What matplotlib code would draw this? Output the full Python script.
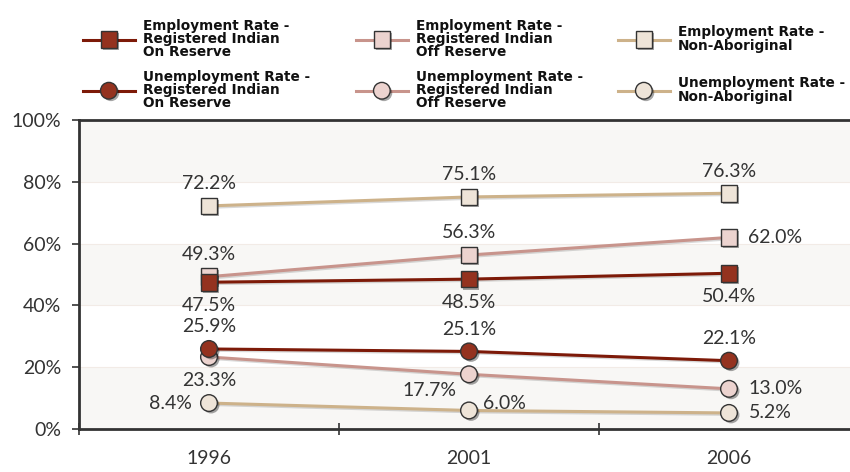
import matplotlib
matplotlib.use("Agg")
import matplotlib.pyplot as plt
import matplotlib.patheffects as pe
from matplotlib.lines import Line2D

plt.rcParams['font.family'] = ['Lato', 'DejaVu Sans']

years = ["1996", "2001", "2006"]
emp_on = [47.5, 48.5, 50.4]
emp_off = [49.3, 56.3, 62.0]
emp_non = [72.2, 75.1, 76.3]
unemp_on = [25.9, 25.1, 22.1]
unemp_off = [23.3, 17.7, 13.0]
unemp_non = [8.4, 6.0, 5.2]

labels = [
    "Employment Rate -\nRegistered Indian\nOn Reserve",
    "Unemployment Rate -\nRegistered Indian\nOn Reserve",
    "Employment Rate -\nRegistered Indian\nOff Reserve",
    "Unemployment Rate -\nRegistered Indian\nOff Reserve",
    "Employment Rate -\nNon-Aboriginal",
    "Unemployment Rate -\nNon-Aboriginal",
]
yticks = [0, 20, 40, 60, 80, 100]
ytick_labels = ["0%", "20%", "40%", "60%", "80%", "100%"]

C_ON_LINE, C_ON_FILL = "#7d1a08", "#94321f"
C_OFF_LINE, C_OFF_FILL = "#c8948c", "#ecd3cf"
C_NON_LINE, C_NON_FILL = "#cdb28a", "#eee4d8"
EDGE = "#333333"
TXT = "#333333"

fig = plt.figure(figsize=(8.5, 4.72), dpi=100)
ax = fig.add_axes([79/850, 43/472, 780/850, 309/472])
ax.set_xlim(-0.5, 2.5)
ax.set_ylim(0, 100)

# background bands
for lo in (0, 40, 80):
    ax.axhspan(lo, lo + 20, color="#f8f7f5", zorder=0, lw=0)
for yv in (20, 40, 60, 80):
    ax.axhline(yv, color="#f2ebe6", lw=0.8, zorder=0.5)

x = list(range(len(years)))
line_fx = [pe.SimpleLineShadow(offset=(1.0, -1.0), alpha=0.15, shadow_color="black"), pe.Normal()]
mark_fx = [pe.SimplePatchShadow(offset=(1.5, -1.5), alpha=0.35, shadow_rgbFace="black"), pe.Normal()]

series = [
    (emp_off, C_OFF_LINE, C_OFF_FILL, "s"),
    (unemp_off, C_OFF_LINE, C_OFF_FILL, "o"),
    (emp_non, C_NON_LINE, C_NON_FILL, "s"),
    (unemp_non, C_NON_LINE, C_NON_FILL, "o"),
    (emp_on, C_ON_LINE, C_ON_FILL, "s"),
    (unemp_on, C_ON_LINE, C_ON_FILL, "o"),
]
z = 3
for vals, lc, fc, m in series:
    ax.plot(x, vals, color=lc, lw=2.2, zorder=z, path_effects=line_fx)
    ax.plot(x, vals, ls="none", marker=m, ms=12, mfc=fc, mec=EDGE, mew=1.0,
            zorder=z + 0.5, path_effects=mark_fx)
    z += 1

def lab(xi, v, dx, dy, ha="center"):
    ax.annotate(f"{v:.1f}%", (xi, v), xytext=(dx, dy), textcoords="offset points",
                ha=ha, va="center", fontsize=14, color=TXT, zorder=20)

# Non-aboriginal employment: above
for i, v in enumerate(emp_non):
    lab(i, v, 0, 16)
# Off reserve employment
lab(0, emp_off[0], 0, 16)
lab(1, emp_off[1], 0, 16)
lab(2, emp_off[2], 14, 0, "left")
# On reserve employment: below
for i, v in enumerate(emp_on):
    lab(i, v, 0, -17)
# On reserve unemployment: above
for i, v in enumerate(unemp_on):
    lab(i, v, 0, 16)
# Off reserve unemployment
lab(0, unemp_off[0], 0, -17)
lab(1, unemp_off[1], -9, -12, "right")
lab(2, unemp_off[2], 14, 0, "left")
# Non-aboriginal unemployment
lab(0, unemp_non[0], -12, 0, "right")
lab(1, unemp_non[1], 10, 5, "left")
lab(2, unemp_non[2], 14, 0, "left")

# axes styling
for s in ("left", "bottom", "top"):
    ax.spines[s].set_color("#333333")
    ax.spines[s].set_linewidth(2)
ax.spines["right"].set_visible(False)

ax.set_yticks(yticks)
ax.set_yticklabels(ytick_labels)
ax.tick_params(axis="y", direction="out", length=5, width=1.2, color="#333333",
               labelsize=14, labelcolor=TXT, pad=8)
ax.set_xticks(x)
ax.set_xticklabels(years)
ax.tick_params(axis="x", which="major", length=0, labelsize=14, labelcolor=TXT, pad=15)
ax.set_xticks([-0.5, 0.5, 1.5, 2.5], minor=True)
ax.tick_params(axis="x", which="minor", direction="inout", length=9, width=1.2, color="#333333")

# legend, one entry per column/row
handles = [
    (C_ON_LINE, C_ON_FILL, "s"), (C_ON_LINE, C_ON_FILL, "o"),
    (C_OFF_LINE, C_OFF_FILL, "s"), (C_OFF_LINE, C_OFF_FILL, "o"),
    (C_NON_LINE, C_NON_FILL, "s"), (C_NON_LINE, C_NON_FILL, "o"),
]
col_x = [83, 83, 356, 356, 618, 618]
row_y = [39, 90, 39, 90, 39, 90]
for (lc, fc, m), lbl, px, py in zip(handles, labels, col_x, row_y):
    h = Line2D([0], [0], color=lc, lw=2.2, marker=m, ms=12, mfc=fc, mec=EDGE, mew=1.0,
               path_effects=mark_fx)
    leg = fig.legend([h], [lbl], loc="center left", bbox_to_anchor=(px/850, 1 - py/472),
                     frameon=False, borderpad=0, borderaxespad=0, handlelength=3.8,
                     handletextpad=0.6, prop={"family": ["DejaVu Sans"],
                                               "weight": "bold", "size": 9.8})
    for t in leg.get_texts():
        t.set_linespacing(0.95)
        t.set_color("#111111")

fig.savefig("out.png", dpi=100)
